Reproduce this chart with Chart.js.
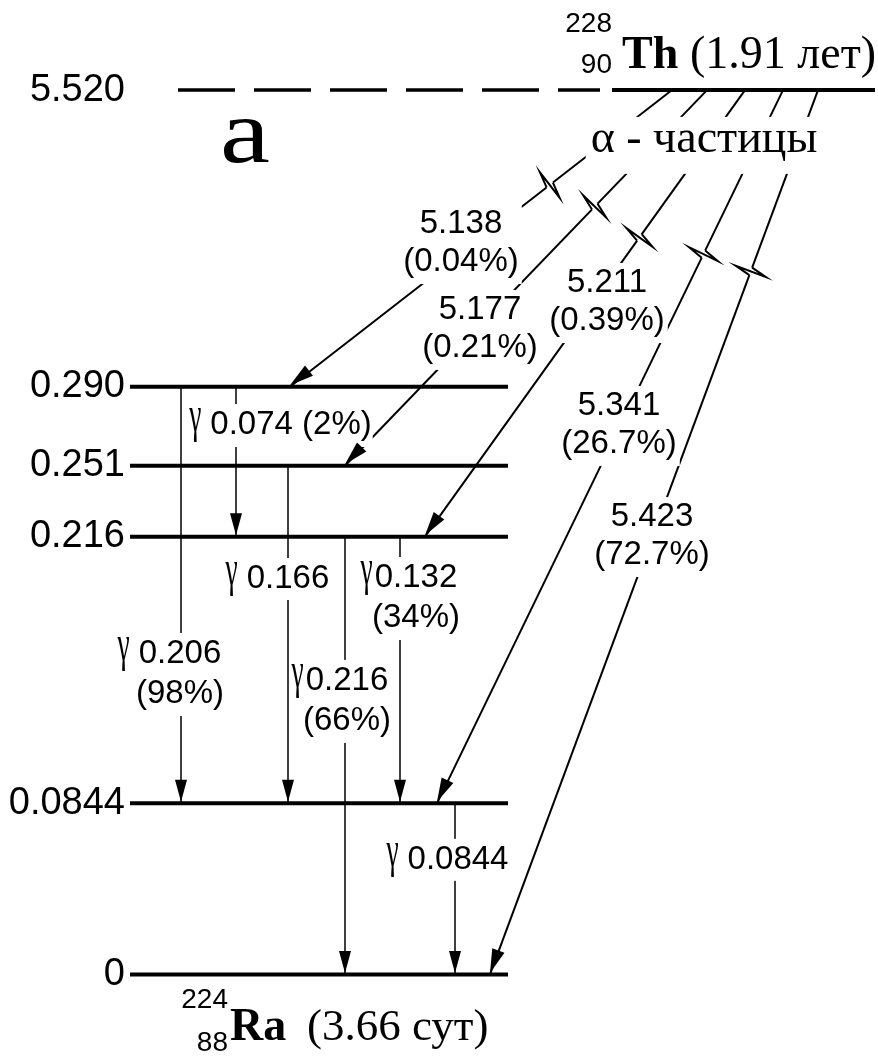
<!DOCTYPE html>
<html>
<head>
<meta charset="utf-8">
<script src="https://cdn.jsdelivr.net/npm/chart.js@4.4.1/dist/chart.umd.min.js"></script>
<style>
  html, body { margin: 0; padding: 0; background: #fff; }
  canvas { display: block; }
</style>
</head>
<body>
<canvas id="scheme" width="878" height="1061"></canvas>
<script>
// Decay scheme of 228Th -> 224Ra: excited levels of the daughter,
// alpha groups feeding them and the gamma transitions between levels.

// ---- data ----
const tickLabels = ['5.520', '0.290', '0.251', '0.216', '0.0844', '0'];
const levelEnergies = [0.290, 0.251, 0.216, 0.0844, 0];          // MeV, levels of 224Ra
const alphaEnergies = [5.138, 5.177, 5.211, 5.341, 5.423];       // MeV
const alphaIntensities = [0.04, 0.21, 0.39, 26.7, 72.7];         // %
const alphaTargets = [0.290, 0.251, 0.216, 0.0844, 0];           // level fed by each alpha group
const gammaEnergies = [0.074, 0.206, 0.166, 0.216, 0.132, 0.0844];
const gammaIntensities = [2, 98, null, 66, 34, null];            // %
const gammaFrom = [0.290, 0.290, 0.251, 0.216, 0.216, 0.0844];
const gammaTo = [0.216, 0.0844, 0.0844, 0, 0.0844, 0];
const parentNuclide = { mass: '228', charge: '90', symbol: 'Th', halfLife: '(1.91 лет)' };
const daughterNuclide = { mass: '224', charge: '88', symbol: 'Ra', halfLife: '(3.66 сут)' };
const alphaTitle = 'α - частицы';
const panelTag = 'a';

// ---- layout ----
const Y_MIN = -0.04274, Y_MAX = 0.48085;   // vertical axis, MeV below the break
const BREAK_POS = 0.4364;                  // axis position of the parent level above the break
const X_MIN = 128, X_MAX = 878;            // horizontal layout units
const AXIS_WIDTH = 128;
const levelX = [130, 508];
const parentDashX = [178, 600];
const parentSolidX = [612, 875];
const gammaX = [236, 181, 288, 345, 400, 455];
const alphaStartX = [672, 707, 745, 783, 818];
const alphaEndX = [290, 345, 425, 437, 490];
const alphaBreakT = [0.32, 0.31, 0.33, 0.23, 0.205];   // break mark, fraction of path from the top
const alphaLabelPos = [[461, 0.3624], [480, 0.3200], [607, 0.3333], [619, 0.2726], [652, 0.2178]];
const gammaLabelPos = [[291, 0.2726, 1], [180, 0.1596, 1], [288, 0.1966, 1],
                       [347, 0.1463, 0], [416, 0.1971, 0], [458, 0.0580, 1]];
const alphaTitlePos = [704, 0.4059];
const panelTagPos = [245, 0.4009];

const SANS = '"Liberation Sans", Arial, sans-serif';
const SERIF = '"Liberation Serif", "Times New Roman", serif';

// ---- line marks ----
const datasets = [];
function addLine(points, width, dash) {
  datasets.push({
    data: points, showLine: true, borderColor: '#000', borderWidth: width,
    borderDash: dash || [], borderCapStyle: 'butt', pointRadius: 0, fill: false, tension: 0
  });
}
levelEnergies.forEach(e => addLine([{ x: levelX[0], y: e }, { x: levelX[1], y: e }], 4));
addLine([{ x: parentDashX[0], y: BREAK_POS }, { x: parentDashX[1], y: BREAK_POS }], 3.5, [57, 19]);
addLine([{ x: parentSolidX[0], y: BREAK_POS }, { x: parentSolidX[1], y: BREAK_POS }], 4);
gammaEnergies.forEach((g, i) =>
  addLine([{ x: gammaX[i], y: gammaFrom[i] }, { x: gammaX[i], y: gammaTo[i] }], 1.5));
alphaEnergies.forEach((a, i) =>
  addLine([{ x: alphaStartX[i], y: BREAK_POS }, { x: alphaEndX[i], y: alphaTargets[i] }], 2));

// ---- helpers ----
function arrowHead(ctx, tx, ty, fx, fy, len, half) {
  const dx = tx - fx, dy = ty - fy, d = Math.hypot(dx, dy);
  const ux = dx / d, uy = dy / d;
  const bx = tx - ux * len, by = ty - uy * len;
  ctx.beginPath();
  ctx.moveTo(tx, ty);
  ctx.lineTo(bx - uy * half, by + ux * half);
  ctx.lineTo(bx + uy * half, by - ux * half);
  ctx.closePath();
  ctx.fill();
}

function textBox(ctx, it) {
  ctx.font = it.font; ctx.textAlign = it.align; ctx.textBaseline = it.baseline;
  const m = ctx.measureText(it.text);
  return {
    l: it.x - m.actualBoundingBoxLeft * it.sx - it.padX,
    r: it.x + m.actualBoundingBoxRight * it.sx + it.padX,
    t: it.y - m.actualBoundingBoxAscent - it.padY,
    b: it.y + m.actualBoundingBoxDescent + it.padY
  };
}

const schemeAnnotations = {
  id: 'schemeAnnotations',
  afterDatasetsDraw(chart) {
    const { ctx, scales: { x: xs, y: ys } } = chart;
    const X = v => xs.getPixelForValue(v);
    const Y = v => ys.getPixelForValue(v);
    const items = [];
    const add = (text, font, x, y, align, o = {}) => items.push({
      text, font, x, y, align, baseline: o.baseline || 'alphabetic',
      padX: o.padX || 0, padY: o.padY || 0, group: o.group || null, sx: o.sx || 1
    });
    ctx.save();

    // alpha group labels (two lines, centred on the given point)
    const aFont = '33px ' + SANS;
    alphaEnergies.forEach((a, i) => {
      const cx = X(alphaLabelPos[i][0]), cy = Y(alphaLabelPos[i][1]);
      const g = 'a' + i;
      add(a.toFixed(3), aFont, cx, cy - 19 + 12, 'center', { group: g, padX: 5, padY: 6 });
      add('(' + alphaIntensities[i] + '%)', aFont, cx, cy + 19 + 12, 'center', { group: g, padX: 5, padY: 6 });
    });

    // gamma transition labels
    const gFont = '33px ' + SANS;
    gammaEnergies.forEach((e, i) => {
      const [lx, ly, spaced] = gammaLabelPos[i];
      const cx = X(lx), base = Y(ly) + 12;
      const g = 'g' + i;
      let main = String(e);
      const oneLine = i === 0;
      if (gammaIntensities[i] !== null && oneLine) main += ' (' + gammaIntensities[i] + '%)';
      ctx.font = gFont;
      const w = ctx.measureText(main).width;
      add(main, gFont, cx, base, 'center', { group: g, padX: 3, padY: 6 });
      add('γ', '50px ' + SERIF, cx - w / 2 - (spaced ? 9 : 2), base - 3, 'right',
          { group: g, padX: 2, padY: 4, sx: 0.55 });
      if (gammaIntensities[i] !== null && !oneLine) {
        add('(' + gammaIntensities[i] + '%)', gFont, cx, base + 40, 'center', { group: g, padX: 3, padY: 6 });
      }
    });

    // alpha particles title and panel tag
    add(alphaTitle, '46px ' + SERIF, X(alphaTitlePos[0]), Y(alphaTitlePos[1]), 'center',
        { group: 'title', padX: 6, padY: 13 });
    add(panelTag, '90px ' + SERIF, X(panelTagPos[0]), Y(panelTagPos[1]), 'center', { sx: 1.25 });

    // nuclide labels
    const px = X(622), py = Y(BREAK_POS);
    add(parentNuclide.symbol, 'bold 46px ' + SERIF, px, py - 22, 'left');
    add(parentNuclide.mass, '28px ' + SANS, px - 10, py - 58, 'right');
    add(parentNuclide.charge, '28px ' + SANS, px - 10, py - 17, 'right');
    add(parentNuclide.halfLife, '46px ' + SERIF, px + 68, py - 22, 'left');
    const dx = X(230), dy = Y(0);
    add(daughterNuclide.symbol, 'bold 46px ' + SERIF, dx, dy + 66, 'left');
    add(daughterNuclide.mass, '28px ' + SANS, dx - 2, dy + 34, 'right');
    add(daughterNuclide.charge, '28px ' + SANS, dx - 2, dy + 77, 'right');
    add(daughterNuclide.halfLife, '45px ' + SERIF, dx + 77, dy + 66, 'left');

    // white backing behind labels that sit on lines (one box per label group)
    const boxes = {};
    items.filter(it => it.group).forEach(it => {
      const b = textBox(ctx, it);
      const o = boxes[it.group];
      boxes[it.group] = o ? { l: Math.min(o.l, b.l), r: Math.max(o.r, b.r), t: Math.min(o.t, b.t), b: Math.max(o.b, b.b) } : b;
    });
    ctx.fillStyle = '#fff';
    Object.values(boxes).forEach(b => ctx.fillRect(b.l, b.t, b.r - b.l, b.b - b.t));

    // break marks on the alpha paths
    ctx.strokeStyle = '#000';
    alphaEnergies.forEach((a, i) => {
      const sx = X(alphaStartX[i]), sy = Y(BREAK_POS);
      const ex = X(alphaEndX[i]), ey = Y(alphaTargets[i]);
      const t = alphaBreakT[i];
      const cx = sx + (ex - sx) * t, cy = sy + (ey - sy) * t;
      const d = Math.hypot(sx - ex, sy - ey);
      const ux = (sx - ex) / d, uy = (sy - ey) / d;      // along the path, toward the parent
      const nx = -uy, ny = ux;                              // normal
      const s = 4, h = 16;
      ctx.save();
      ctx.strokeStyle = '#fff'; ctx.lineWidth = 5;
      ctx.beginPath(); ctx.moveTo(cx - ux * s, cy - uy * s); ctx.lineTo(cx + ux * s, cy + uy * s); ctx.stroke();
      ctx.restore();
      ctx.lineWidth = 2;
      ctx.beginPath();
      ctx.moveTo(cx - ux * s, cy - uy * s);
      ctx.lineTo(cx - nx * h, cy - ny * h);
      ctx.lineTo(cx + nx * h, cy + ny * h);
      ctx.lineTo(cx + ux * s, cy + uy * s);
      ctx.stroke();
    });

    // arrowheads
    ctx.fillStyle = '#000';
    gammaEnergies.forEach((e, i) => {
      const x = X(gammaX[i]);
      arrowHead(ctx, x, Y(gammaTo[i]) - 1.5, x, Y(gammaFrom[i]), 22, 6);
    });
    alphaEnergies.forEach((a, i) => {
      arrowHead(ctx, X(alphaEndX[i]), Y(alphaTargets[i]) - 1.5, X(alphaStartX[i]), Y(BREAK_POS), 24, 6.5);
    });

    // text
    ctx.fillStyle = '#000';
    items.forEach(it => {
      ctx.font = it.font; ctx.textAlign = it.align; ctx.textBaseline = it.baseline;
      ctx.save();
      ctx.translate(it.x, it.y);
      ctx.scale(it.sx, 1);
      ctx.fillText(it.text, 0, 0);
      ctx.restore();
    });
    ctx.restore();
  }
};

new Chart(document.getElementById('scheme'), {
  type: 'scatter',
  data: { datasets },
  options: {
    responsive: false,
    animation: false,
    devicePixelRatio: 1,
    events: [],
    layout: { padding: 0 },
    plugins: { legend: { display: false }, tooltip: { enabled: false } },
    scales: {
      x: { type: 'linear', min: X_MIN, max: X_MAX, display: false },
      y: {
        type: 'linear', min: Y_MIN, max: Y_MAX, position: 'left',
        grid: { display: false, drawTicks: false },
        border: { display: false },
        afterBuildTicks(scale) {
          scale.ticks = [BREAK_POS].concat(levelEnergies).map(v => ({ value: v }));
        },
        afterFit(scale) {
          scale.width = AXIS_WIDTH;
          scale.paddingTop = 0; scale.paddingBottom = 0;
        },
        ticks: {
          autoSkip: false, padding: 3, color: '#000',
          font: { family: '"Liberation Sans", Arial, sans-serif', size: 38 },
          callback: (v, i) => tickLabels[i]
        }
      }
    }
  },
  plugins: [schemeAnnotations]
});
</script>
</body>
</html>
